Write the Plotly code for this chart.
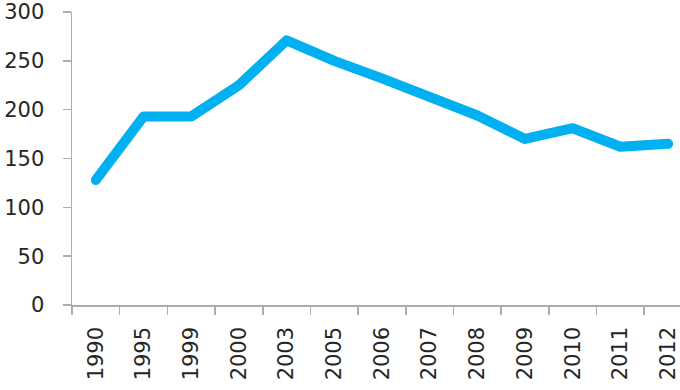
import plotly.graph_objects as go

years = ["1990", "1995", "1999", "2000", "2003", "2005", "2006", "2007",
         "2008", "2009", "2010", "2011", "2012"]
values = [128, 193, 193, 225, 271, 250, 232, 212, 194, 170, 181, 162, 165]
y_ticks = [0, 50, 100, 150, 200, 250, 300]

fig = go.Figure(go.Scatter(
    x=years, y=values, mode="lines",
    line=dict(color="#00B0F0", width=10),
    hoverinfo="skip",
))

font = dict(family="DejaVu Sans", size=21, color="#262626")

fig.update_layout(
    width=680, height=390,
    margin=dict(l=72, r=0, t=11.5, b=85),
    paper_bgcolor="white", plot_bgcolor="white",
    showlegend=False,
    font=font,
)
fig.update_xaxes(
    type="category", range=[-0.5, 12.25],
    showline=True, linecolor="#ADADAD", linewidth=1.5,
    ticks="outside", ticklen=8, tickcolor="#ADADAD", tickwidth=1.5,
    tickson="boundaries", tickangle=-90,
    showgrid=False, zeroline=False,
    ticklabelstandoff=12,
    tickfont=font, automargin=False,
)
fig.update_yaxes(
    range=[0, 300], tickvals=y_ticks,
    showline=True, linecolor="#ADADAD", linewidth=1.5,
    ticks="outside", ticklen=8, tickcolor="#ADADAD", tickwidth=1.5,
    showgrid=False, zeroline=False,
    ticklabelstandoff=14,
    tickfont=font, automargin=False,
)

fig.write_html(
    "out.html",
    config={"displayModeBar": False, "staticPlot": True},
    post_script=(
        "document.body.style.margin='0';document.body.style.overflow='hidden';"
        "document.querySelectorAll('.js-line').forEach(function(p){"
        "p.style.strokeLinecap='round';p.style.strokeLinejoin='round';});"
    ),
)
